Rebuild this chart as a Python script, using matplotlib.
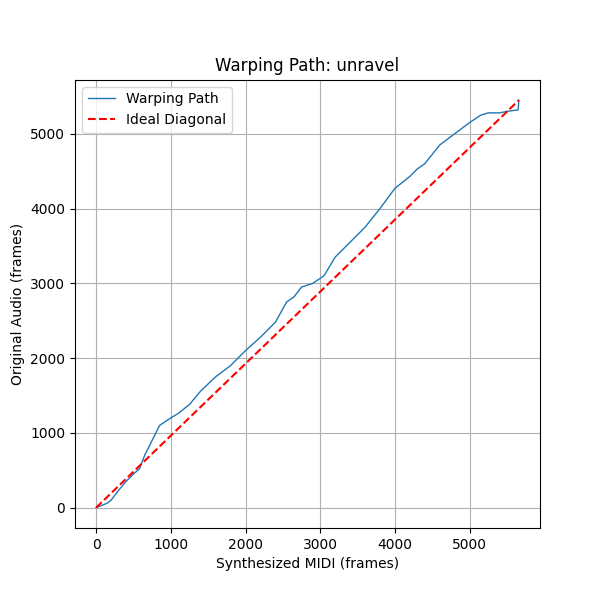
import matplotlib
matplotlib.use("Agg")
import matplotlib.pyplot as plt

# warping path points
path_x = [0, 150, 200, 300, 400, 500, 580, 650, 750, 850, 1000, 1100, 1250, 1400,
          1600, 1800, 2000, 2200, 2400, 2550, 2650, 2750, 2900, 3050, 3200, 3400,
          3600, 3800, 4000, 4200, 4300, 4400, 4600, 4800, 5000, 5150, 5250, 5400,
          5500, 5650, 5660]
path_y = [0, 60, 100, 230, 350, 450, 520, 700, 900, 1100, 1200, 1260, 1380, 1560,
          1750, 1900, 2100, 2280, 2480, 2750, 2820, 2950, 3000, 3100, 3350, 3550,
          3750, 4000, 4270, 4430, 4530, 4600, 4850, 5000, 5150, 5250, 5280, 5280,
          5300, 5320, 5450]
diag_x = [0, 5660]
diag_y = [0, 5450]

fig, ax = plt.subplots(figsize=(6, 6), dpi=100)
fig.subplots_adjust(top=0.867, bottom=0.12)
ax.plot(path_x, path_y, lw=1, label="Warping Path")
ax.plot(diag_x, diag_y, "r--", label="Ideal Diagonal")
ax.set_title("Warping Path: unravel")
ax.set_xlabel("Synthesized MIDI (frames)")
ax.set_ylabel("Original Audio (frames)")
ax.legend(loc="upper left")
ax.grid(True)
fig.savefig("out.png")
